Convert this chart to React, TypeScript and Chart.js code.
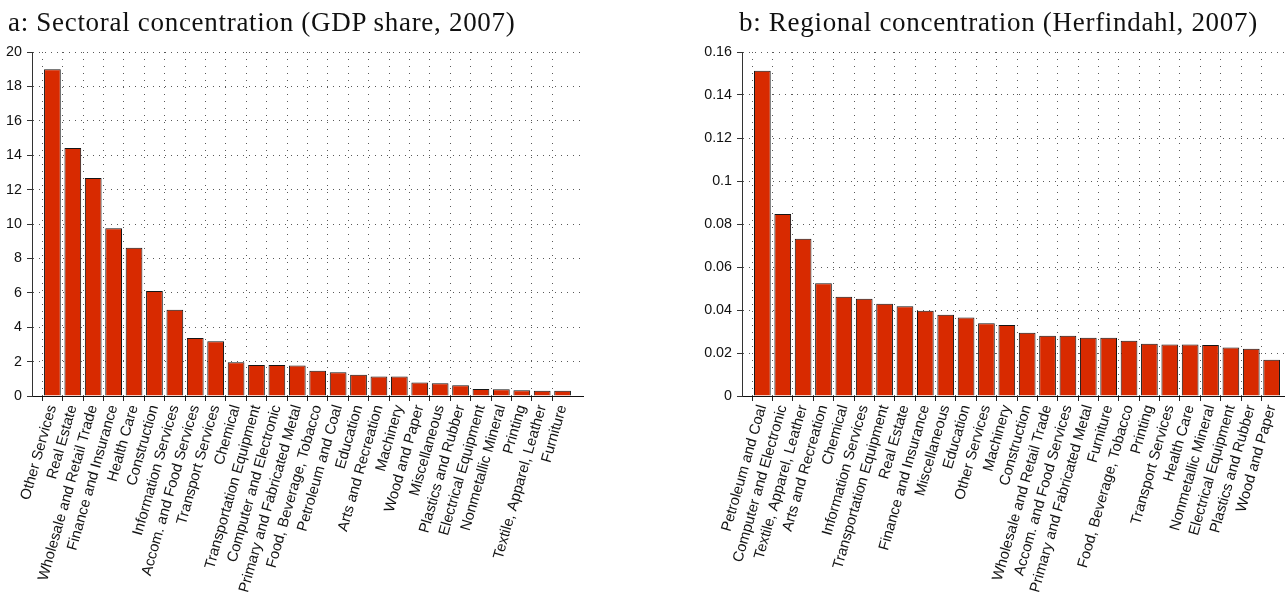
import React, { useEffect, useRef } from 'react';
import { Chart, registerables } from 'chart.js';

Chart.register(...registerables);

// ---- data ----
const sectorCategories = [
  'Other Services', 'Real Estate', 'Wholesale and Retail Trade', 'Finance and Insurance', 'Health Care',
  'Construction', 'Information Services', 'Accom. and Food Services', 'Transport Services', 'Chemical',
  'Transportation Equipment', 'Computer and Electronic', 'Primary and Fabricated Metal', 'Food, Beverage, Tobacco',
  'Petroleum and Coal', 'Education', 'Arts and Recreation', 'Machinery', 'Wood and Paper', 'Miscellaneous',
  'Plastics and Rubber', 'Electrical Equipment', 'Nonmetallic Mineral', 'Printing', 'Textile, Apparel, Leather',
  'Furniture',
];
const sectorGdpShare = [
  19.0, 14.42, 12.67, 9.75, 8.62, 6.1, 5.02, 3.37, 3.18, 1.96, 1.8, 1.8, 1.78, 1.47, 1.38, 1.24, 1.14, 1.14,
  0.79, 0.74, 0.62, 0.41, 0.39, 0.33, 0.31, 0.31,
];
const regionCategories = [
  'Petroleum and Coal', 'Computer and Electronic', 'Textile, Apparel, Leather', 'Arts and Recreation', 'Chemical',
  'Information Services', 'Transportation Equipment', 'Real Estate', 'Finance and Insurance', 'Miscellaneous',
  'Education', 'Other Services', 'Machinery', 'Construction', 'Wholesale and Retail Trade',
  'Accom. and Food Services', 'Primary and Fabricated Metal', 'Furniture', 'Food, Beverage, Tobacco', 'Printing',
  'Transport Services', 'Health Care', 'Nonmetallic Mineral', 'Electrical Equipment', 'Plastics and Rubber',
  'Wood and Paper',
];
const regionHerfindahl = [
  0.1513, 0.0847, 0.0731, 0.0524, 0.0462, 0.0452, 0.0429, 0.0417, 0.0397, 0.0378, 0.0365, 0.0338, 0.033,
  0.0294, 0.028, 0.028, 0.0271, 0.0271, 0.0257, 0.0243, 0.024, 0.024, 0.0237, 0.0226, 0.022, 0.0169,
];
const sectorYMax = 20;
const sectorYStep = 2;
const regionYMax = 0.16;
const regionYStep = 0.02;
const titleA = 'a: Sectoral concentration (GDP share, 2007)';
const titleB = 'b: Regional concentration (Herfindahl, 2007)';

const BAR_COLOR = '#d82a00';
const Y_TICK_FONT = { family: '"Liberation Sans", Arial, sans-serif', size: 14.3 };
const X_TICK_FONT = { family: '"Liberation Sans", Arial, sans-serif', size: 14.8 };

type PanelProps = {
  categories: string[];
  values: number[];
  yMax: number;
  yStep: number;
  left: number;
  width: number;
  yAxisWidth: number;
  padRight: number;
};

function BarPanel({ categories, values, yMax, yStep, left, width, yAxisWidth, padRight }: PanelProps) {
  const ref = useRef<HTMLCanvasElement | null>(null);
  useEffect(() => {
    if (!ref.current) return;
    const labels = ['', ...categories, ''];
    const data = [null, ...values, null];
    const lastIdx = labels.length - 1;
    const edge = (c: any) => c.index === 0 || c.index === lastIdx;
    const chart = new Chart(ref.current, {
      type: 'bar',
      data: {
        labels,
        datasets: [
          {
            data: data as any,
            backgroundColor: BAR_COLOR,
            borderColor: '#151515',
            borderWidth: 1,
            barPercentage: 0.82,
            categoryPercentage: 1,
          },
        ],
      },
      options: {
        responsive: false,
        animation: false,
        devicePixelRatio: 1,
        layout: { padding: { top: 52, left: 0, right: padRight, bottom: 0 } },
        plugins: { legend: { display: false }, tooltip: { enabled: false }, title: { display: false } },
        scales: {
          x: {
            type: 'category',
            offset: false,
            grid: {
              display: true,
              color: (c: any) => (edge(c) ? 'rgba(0,0,0,0)' : 'rgba(0,0,0,0.65)'),
              tickColor: (c: any) => (edge(c) ? 'rgba(0,0,0,0)' : '#222'),
              lineWidth: 1,
              tickLength: 5,
              drawTicks: true,
            },
            border: { display: true, color: '#111', width: 1, dash: [1, 6] },
            ticks: {
              autoSkip: false,
              minRotation: 74,
              maxRotation: 74,
              color: '#111',
              font: X_TICK_FONT,
              padding: 2,
            },
            afterFit: (s: any) => {
              s.height = 199;
              s.paddingLeft = 0;
              s.paddingRight = 0;
            },
          },
          y: {
            min: 0,
            max: yMax,
            grid: {
              color: 'rgba(0,0,0,0.65)',
              tickColor: '#333',
              lineWidth: 1,
              tickLength: 5,
            },
            border: { display: true, color: '#333', width: 1, dash: [1, 5] },
            ticks: {
              stepSize: yStep,
              color: '#111',
              font: Y_TICK_FONT,
              padding: 5,
              callback: (v: any) => String(+Number(v).toFixed(4)),
            },
            afterFit: (s: any) => {
              s.width = yAxisWidth;
            },
          },
        },
      },
    });
    return () => chart.destroy();
  }, []);
  return (
    <canvas
      ref={ref}
      width={width}
      height={595}
      style={{ position: 'absolute', left, top: 0, width, height: 595, display: 'block' }}
    />
  );
}

const titleStyle: React.CSSProperties = {
  position: 'absolute',
  top: 9,
  fontFamily: '"Liberation Serif", "Times New Roman", serif',
  fontSize: 27,
  lineHeight: 1,
  color: '#111',
  whiteSpace: 'nowrap',
  letterSpacing: '0.7px',
};

export default function App() {
  return (
    <div
      style={{
        position: 'fixed',
        left: 0,
        top: 0,
        width: 1285,
        height: 595,
        overflow: 'hidden',
        background: '#fff',
      }}
    >
      <BarPanel
        categories={sectorCategories}
        values={sectorGdpShare}
        yMax={sectorYMax}
        yStep={sectorYStep}
        left={0}
        width={600}
        yAxisWidth={32}
        padRight={17}
      />
      <BarPanel
        categories={regionCategories}
        values={regionHerfindahl}
        yMax={regionYMax}
        yStep={regionYStep}
        left={690}
        width={610}
        yAxisWidth={52}
        padRight={8}
      />
      <div style={{ ...titleStyle, left: 8 }}>{titleA}</div>
      <div style={{ ...titleStyle, left: 739 }}>{titleB}</div>
    </div>
  );
}
